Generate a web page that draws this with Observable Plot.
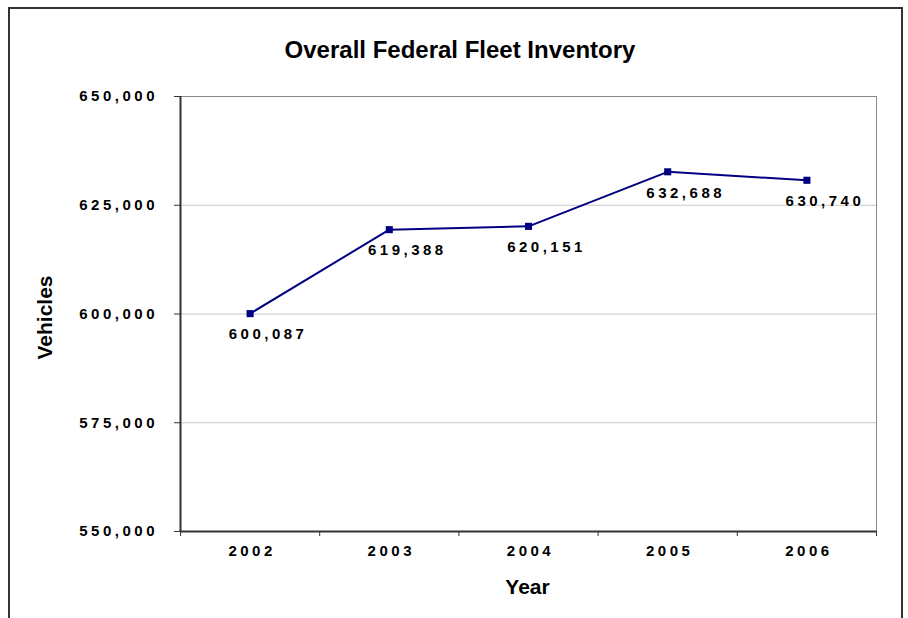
<!DOCTYPE html>
<html><head><meta charset="utf-8">
<script src="https://cdn.jsdelivr.net/npm/d3@7"></script>
<script src="https://cdn.jsdelivr.net/npm/@observablehq/plot@0.6"></script>
<style>
body{margin:0;background:#fff;}
#wrap{position:relative;width:908px;height:618px;overflow:hidden;background:#fff;}
#border{position:absolute;left:8px;top:7px;width:895px;height:700px;border:2px solid #333;box-sizing:border-box;pointer-events:none;}
#wrap svg{position:absolute;left:0;top:0;}
#wrap svg text{letter-spacing:3.5px;font-weight:bold;}
</style>
</head><body>
<div id="wrap"><div id="border"></div></div>
<script>
const titleText = "Overall Federal Fleet Inventory";
const yLabel = "Vehicles";
const xLabel = "Year";
const years = [2002, 2003, 2004, 2005, 2006];
const vehicles = [600087, 619388, 620151, 632688, 630740];
const yTicks = [550000, 575000, 600000, 625000, 650000];

const data = years.map((yr, i) => ({year: yr, vehicles: vehicles[i]}));
const boundaries = years.map(y => y - 0.5).concat([years[years.length - 1] + 0.5]);
const fmt = d3.format(",");
const font = "'Liberation Sans', Arial, sans-serif";

const chart = Plot.plot({
  width: 908,
  height: 618,
  marginLeft: 180,
  marginRight: 32,
  marginTop: 96,
  marginBottom: 87,
  style: {fontFamily: font, background: "transparent", color: "#000"},
  x: {type: "linear", domain: [boundaries[0], boundaries[boundaries.length - 1]]},
  y: {domain: [yTicks[0], yTicks[yTicks.length - 1]]},
  marks: [
    Plot.gridY(yTicks, {stroke: "#c8c8c8", strokeOpacity: 1, strokeWidth: 1}),
    Plot.ruleY([yTicks[yTicks.length - 1]], {stroke: "#888", strokeWidth: 1}),
    Plot.ruleX([boundaries[boundaries.length - 1]], {stroke: "#888", strokeWidth: 1}),
    Plot.line(data, {x: "year", y: "vehicles", stroke: "#000080", strokeWidth: 2}),
    Plot.dot(data, {x: "year", y: "vehicles", symbol: "square", r: 4, fill: "#000080", stroke: "none"}),
    Plot.text(data, {x: "year", y: "vehicles", text: d => fmt(d.vehicles), dx: 18, dy: 21,
      fontSize: 15, fontWeight: "bold", fill: "#000"}),
    Plot.axisY({ticks: yTicks, tickFormat: fmt, tickSize: 6, tickPadding: 16.5, label: null,
      fontSize: 15, fontWeight: "bold", stroke: "#333", fill: "#000"}),
    Plot.axisX({ticks: boundaries, tickFormat: () => "", tickSize: 5, label: null, stroke: "#333"}),
    Plot.axisX({ticks: years, tickFormat: d => String(d), tickSize: 0, tickPadding: 14, dx: 2,
      label: null, fontSize: 15, fontWeight: "bold", fill: "#000"}),
    Plot.ruleX([boundaries[0]], {stroke: "#333", strokeWidth: 2}),
    Plot.ruleY([yTicks[0]], {stroke: "#333", strokeWidth: 2}),
    Plot.text([titleText], {frameAnchor: "top", dx: -68.5, dy: -46, lineAnchor: "middle",
      textAnchor: "middle", fontSize: 24, fontWeight: "bold", fill: "#000"}),
    Plot.text([yLabel], {frameAnchor: "left", dx: -135, dy: 3.5, rotate: -90, lineAnchor: "middle",
      textAnchor: "middle", fontSize: 21, fontWeight: "bold", fill: "#000"}),
    Plot.text([xLabel], {frameAnchor: "bottom", dx: -1, dy: 56, lineAnchor: "middle",
      textAnchor: "middle", fontSize: 21, fontWeight: "bold", fill: "#000"})
  ]
});
d3.select(chart).selectAll("text")
  .filter(function() { return [titleText, yLabel, xLabel].includes(this.textContent); })
  .style("letter-spacing", "0px");
document.getElementById("wrap").insertBefore(chart, document.getElementById("border"));
</script>
</body></html>
